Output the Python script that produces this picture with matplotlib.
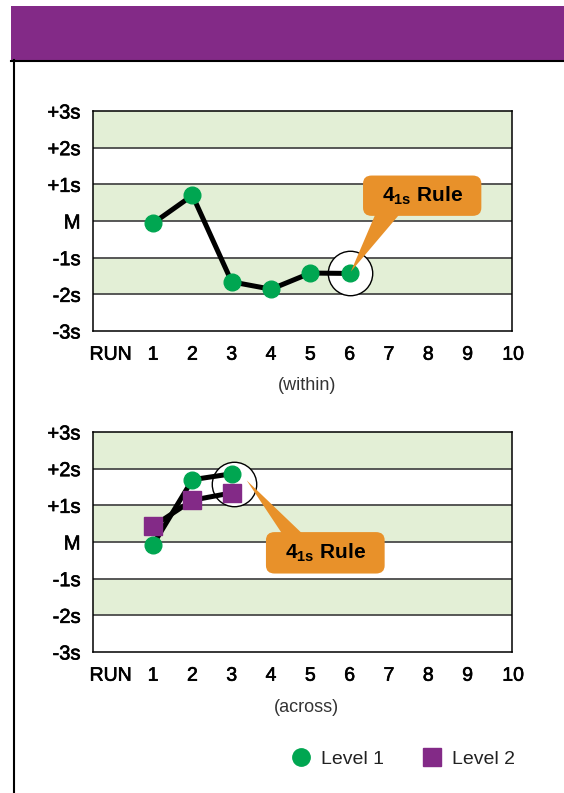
import matplotlib
matplotlib.use('Agg')
import matplotlib.pyplot as plt
import matplotlib.transforms as mtransforms
import matplotlib.patheffects as pe
import numpy as np
from matplotlib.lines import Line2D
from matplotlib.patches import Rectangle, FancyBboxPatch, Polygon

plt.rcParams['font.family'] = ['Liberation Sans', 'DejaVu Sans']
plt.rcParams['mathtext.fontset'] = 'custom'
plt.rcParams['mathtext.rm'] = 'Liberation Sans'
plt.rcParams['mathtext.bf'] = 'Liberation Sans:bold'

PURPLE = '#832A87'
GREEN = '#00A651'
BAND = '#E3EFD6'
ORANGE = '#E8912A'

# --- data ---
y_levels = [-3, -2, -1, 0, 1, 2, 3]
y_labels = ['-3s', '-2s', '-1s', 'M', '+1s', '+2s', '+3s']
x_labels = ['RUN', '1', '2', '3', '4', '5', '6', '7', '8', '9', '10']
green_bands = [(2, 3), (0, 1), (-2, -1)]

runs_within = [1, 2, 3, 4, 5, 6]
level1_within = [-0.06, 0.70, -1.66, -1.86, -1.42, -1.43]

runs_across = [1, 2, 3]
level1_across = [-0.07, 1.70, 1.86]
level2_across = [0.43, 1.14, 1.34]

rule_text = r'4$_{\mathbf{1s}}$ Rule'

# a thin stroke makes the labels a little heavier, like a medium weight
heavy = [pe.withStroke(linewidth=0.45, foreground='black')]

W, H = 564, 793
fig = plt.figure(figsize=(W / 100, H / 100), dpi=100)

# header band and frame
fig.add_artist(Rectangle((11 / W, 1 - 60 / H), 1 - 11 / W, 54 / H,
                         transform=fig.transFigure, color=PURPLE, lw=0))
fig.add_artist(Line2D([11 / W, 1], [1 - 60.5 / H] * 2, transform=fig.transFigure,
                      color='black', lw=1.5))
fig.add_artist(Line2D([13.5 / W] * 2, [0, 1 - 60 / H], transform=fig.transFigure,
                      color='black', lw=1.5))


def setup(ax, subtitle):
	ax.set_xlim(-0.53, 10.13)
	ax.set_ylim(-3, 3)
	for lo, hi in green_bands:
		ax.axhspan(lo, hi, color=BAND, lw=0, zorder=0)
	for lv in y_levels[1:-1]:
		ax.axhline(lv, color='#4a4a4a', lw=1.3, zorder=1)
	for s in ax.spines.values():
		s.set_color('black')
		s.set_linewidth(1.1)
	ax.set_yticks(y_levels)
	ax.set_yticklabels(y_labels, fontsize=14.5)
	for t in ax.get_yticklabels():
		t.set_path_effects(heavy)
	ax.tick_params(axis='y', length=0, pad=9)
	ax.set_xticks([])
	trans = mtransforms.blended_transform_factory(ax.transData, ax.transAxes)
	xpos = np.arange(len(x_labels), dtype=float)
	xpos[0] = -0.08
	xpos[-1] += 0.16
	for xp, lab in zip(xpos, x_labels):
		ax.text(xp, -0.11, lab, transform=trans, ha='center', va='center', fontsize=14,
				path_effects=heavy)
	ax.text(0.51, -0.25, subtitle, transform=ax.transAxes, ha='center', va='center',
			fontsize=13, color='#333333')


def callout(ax, box, base, tip):
	# rounded orange box with a pointed tail
	x0, x1, y0, y1 = box
	ax.add_patch(FancyBboxPatch((x0, y0), x1 - x0, y1 - y0,
								boxstyle='round,pad=0,rounding_size=0.22',
								fc=ORANGE, ec='none', zorder=6))
	ax.add_patch(Polygon([base[0], base[1], tip], closed=True, fc=ORANGE, ec='none',
						 zorder=6))
	ax.text((x0 + x1) / 2, (y0 + y1) / 2, rule_text, ha='center', va='center',
			fontsize=15, fontweight='bold', zorder=7)


# top chart (within)
ax1 = fig.add_axes([93 / W, 1 - 331 / H, 419 / W, 220 / H])
setup(ax1, '(within)')
ax1.plot(runs_within[-1], level1_within[-1], 'o', ms=32, mfc='white', mec='black',
		 mew=1, zorder=2)
ax1.plot(runs_within, level1_within, color='black', lw=3.6, zorder=3,
		 solid_capstyle='round')
ax1.plot(runs_within, level1_within, 'o', color=GREEN, ms=12, zorder=4)
callout(ax1, (6.34, 9.35, 0.14, 1.24),
		[(6.70, 0.3), (7.36, 0.3)],
		(runs_within[-1] + 0.03, level1_within[-1] + 0.05))

# bottom chart (across)
ax2 = fig.add_axes([93 / W, 1 - 652 / H, 419 / W, 220 / H])
setup(ax2, '(across)')
ax2.plot(runs_across[-1] + 0.05, (level1_across[-1] + level2_across[-1]) / 2 - 0.03, 'o',
		 ms=32, mfc='white', mec='black', mew=1, zorder=2)
ax2.plot(runs_across, level1_across, color='black', lw=3.6, zorder=3)
ax2.plot(runs_across, level2_across, color='black', lw=3.6, zorder=3)
ax2.plot(runs_across, level1_across, 'o', color=GREEN, ms=12, zorder=4)
ax2.plot(runs_across, level2_across, 's', color=PURPLE, ms=13, zorder=4)
callout(ax2, (3.87, 6.89, -0.86, 0.27),
		[(4.36, 0.1), (4.92, 0.1)],
		(runs_across[-1] + 0.38, level1_across[-1] - 0.18))

# legend
handles = [Line2D([], [], marker='o', ls='none', color=GREEN, ms=12.5),
		   Line2D([], [], marker='s', ls='none', color=PURPLE, ms=12.5)]
fig.legend(handles, ['Level 1', 'Level 2'], loc='center', ncol=2, frameon=False,
		   bbox_to_anchor=(403 / W, 1 - 759 / H), fontsize=14, handlelength=1,
		   handletextpad=0.5, columnspacing=2.0, labelcolor='#222222')

fig.savefig('out.png', dpi=100)
